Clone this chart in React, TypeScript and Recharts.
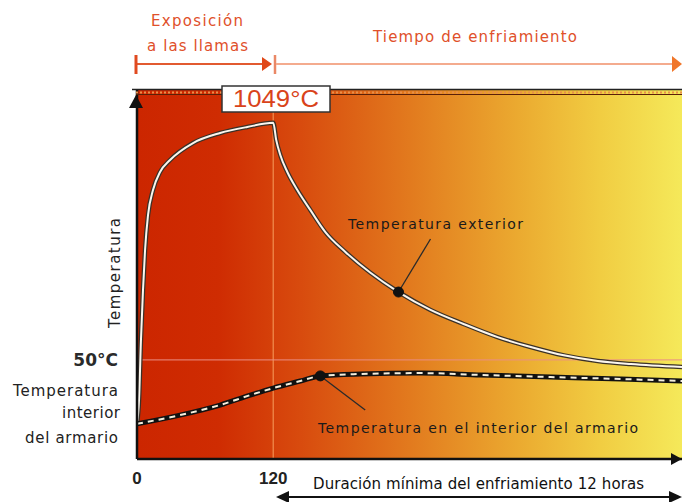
import React from "react";
import {
  ComposedChart,
  Line,
  XAxis,
  YAxis,
  ReferenceArea,
  ReferenceLine,
  ReferenceDot,
} from "recharts";

// ---- Data (x: minutes, schematic; y: temperature °C, log scale) ----
const outerX = [0, 1.8, 3.5, 5.3, 7.1, 9.7, 14.1, 20.3, 29.1, 49.4, 73.2, 97.1, 120, 122.6, 126.2, 132.4, 141.2, 152.6, 165.9, 183.5, 205.6, 230.3, 258.5, 287.6, 317.6, 346.8, 375.9, 405.9, 435, 480];
const outerY = [22, 30, 65, 123, 205, 321, 443, 558, 651, 810, 921, 995, 1049, 843, 694, 558, 443, 343, 258, 200, 153, 119.5, 95, 79.3, 67, 59, 53, 49.3, 47.4, 45.6];

const innerX = [0, 37.9, 73.2, 99.7, 120, 143.8, 161.5, 196.8, 249.7, 302.6, 364.4, 426.2, 480];
const innerY = [22, 24.6, 28, 31.8, 34.8, 38.1, 40.7, 41.7, 42.2, 41.2, 40.1, 39.1, 38.1];

const xTicks = [0, 120];
const yTicks = [50];
const peakLabel = "1049°C";
const outerDotIndex = 21;
const innerDotIndex = 6;
const outerLeaderEnd = { x: 258.5, y: 236 };
const innerLeaderEnd = { x: 201, y: 26.3 };

const outerData = outerX.map((x, i) => ({ x, y: outerY[i] }));
const innerData = innerX.map((x, i) => ({ x, y: innerY[i] }));

const FONT = "'DejaVu Sans', 'Liberation Sans', Arial, sans-serif";
const NUMFONT = "'Liberation Sans', Arial, sans-serif";

const XTick = (props: any) => {
  const { x, y, payload } = props;
  return (
    <text x={x} y={y + 25} textAnchor="middle" fontFamily={NUMFONT} fontWeight="bold" fontSize={17} fill="#222">
      {payload.value}
    </text>
  );
};

const YTick = (props: any) => {
  const { x, y, payload } = props;
  return (
    <text x={x - 19} y={y + 6} textAnchor="end" fontFamily={FONT} fontWeight="bold" fontSize={17} fill="#2a2a2a">
      {payload.value}°C
    </text>
  );
};

export default function App() {
  return (
    <div style={{ position: "absolute", left: 0, top: 0, width: 682, height: 502, background: "#fff" }}>
      <ComposedChart width={682} height={502} margin={{ top: 90, right: 0, left: 0, bottom: 0 }}>
        <defs>
          <linearGradient id="bgGrad" x1="0" y1="0" x2="1" y2="0">
            <stop offset="0%" stopColor="#cc2600" />
            <stop offset="15%" stopColor="#cf2c02" />
            <stop offset="30%" stopColor="#d84b0e" />
            <stop offset="50%" stopColor="#e27a1e" />
            <stop offset="70%" stopColor="#ebaa30" />
            <stop offset="85%" stopColor="#f1cd42" />
            <stop offset="100%" stopColor="#f5e95a" />
          </linearGradient>
        </defs>
        <XAxis
          dataKey="x"
          type="number"
          domain={[0, 480]}
          allowDataOverflow
          ticks={xTicks}
          tick={<XTick />}
          tickLine={false}
          tickSize={0}
          tickMargin={0}
          height={43}
          axisLine={{ stroke: "#111", strokeWidth: 2.5 }}
        />
        <YAxis
          type="number"
          scale="log"
          domain={[14, 1600]}
          allowDataOverflow
          ticks={yTicks}
          tick={<YTick />}
          tickLine={false}
          tickSize={0}
          tickMargin={0}
          width={137}
          axisLine={{ stroke: "#111", strokeWidth: 2.5 }}
        />
        <ReferenceArea x1={0} x2={480} y1={14} y2={1600} fill="url(#bgGrad)" fillOpacity={1} stroke="none" />
        <ReferenceLine x={120} stroke="#f59a5a" strokeOpacity={0.7} strokeWidth={1.5} />
        <ReferenceLine y={50} stroke="#ea8e86" strokeOpacity={0.8} strokeWidth={1.2} />
        <ReferenceLine
          segment={[{ x: outerX[outerDotIndex], y: outerY[outerDotIndex] }, outerLeaderEnd]}
          stroke="#2a2a2a"
          strokeWidth={1.3}
        />
        <ReferenceLine
          segment={[{ x: innerX[innerDotIndex], y: innerY[innerDotIndex] }, innerLeaderEnd]}
          stroke="#2a2a2a"
          strokeWidth={1.3}
        />
        <Line data={outerData} dataKey="y" type="monotone" stroke="#3a3128" strokeWidth={4.5} dot={false} isAnimationActive={false} />
        <Line data={outerData} dataKey="y" type="monotone" stroke="#fbf6ee" strokeWidth={2} dot={false} isAnimationActive={false} />
        <Line data={innerData} dataKey="y" type="monotone" stroke="#111" strokeWidth={5} dot={false} isAnimationActive={false} />
        <Line data={innerData} dataKey="y" type="monotone" stroke="#f4eedc" strokeWidth={2} strokeDasharray="6 5" dot={false} isAnimationActive={false} />
        <ReferenceDot x={outerX[outerDotIndex]} y={outerY[outerDotIndex]} r={5} fill="#111" stroke="#111" />
        <ReferenceDot x={innerX[innerDotIndex]} y={innerY[innerDotIndex]} r={5} fill="#111" stroke="#111" />
      </ComposedChart>
      <svg width={682} height={502} style={{ position: "absolute", left: 0, top: 0, pointerEvents: "none" }}>
        {/* top phase arrows */}
        <line x1={136} y1={64} x2={266} y2={64} stroke="#e25a30" strokeWidth={2} />
        <line x1={136} y1={55} x2={136} y2={74} stroke="#e04a20" strokeWidth={3} />
        <polygon points="262,57 272,64 262,71" fill="#e04818" />
        <line x1={275} y1={55} x2={275} y2={74} stroke="#ea8866" strokeWidth={2.5} />
        <line x1={276} y1={64} x2={674} y2={64} stroke="#f4ab8e" strokeWidth={2} />
        <polygon points="672,56 682,64 672,72" fill="#f0762a" />
        <text x={151} y={26} fontFamily={FONT} fontSize={15} fill="#e0502a" textLength={92} lengthAdjust="spacing">Exposición</text>
        <text x={147} y={51} fontFamily={FONT} fontSize={15} fill="#e0502a" textLength={101} lengthAdjust="spacing">a las llamas</text>
        <text x={373} y={42} fontFamily={FONT} fontSize={15} fill="#e0502a" textLength={204} lengthAdjust="spacing">Tiempo de enfriamiento</text>

        {/* plot top border */}
        <line x1={132} y1={89.5} x2={682} y2={89.5} stroke="#222" strokeWidth={1.5} />
        <line x1={136} y1={92.5} x2={682} y2={92.5} stroke="#e8904a" strokeWidth={2} strokeDasharray="2 2" />
        <line x1={136} y1={94.5} x2={682} y2={94.5} stroke="#5a2008" strokeWidth={1} />

        {/* axis arrowheads */}
        <polygon points="136,95 129,108 143,108" fill="#111" />
        <polygon points="682,459 671,453 671,465" fill="#111" />

        {/* peak label */}
        <rect x={222} y={86} width={108} height={26} fill="#fff" stroke="#333" strokeWidth={1.5} />
        <text x={276} y={107} textAnchor="middle" fontFamily={NUMFONT} fontSize={23} fill="#d9431a" textLength={86} lengthAdjust="spacingAndGlyphs">{peakLabel}</text>

        {/* axis titles */}
        <text transform="translate(120,273) rotate(-90)" textAnchor="middle" fontFamily={FONT} fontSize={15} fill="#222" textLength={110} lengthAdjust="spacing">Temperatura</text>
        <text x={13} y={396} fontFamily={FONT} fontSize={15} fill="#222" textLength={105} lengthAdjust="spacing">Temperatura</text>
        <text x={62} y={418} fontFamily={FONT} fontSize={15} fill="#222" textLength={58} lengthAdjust="spacing">interior</text>
        <text x={25} y={443} fontFamily={FONT} fontSize={15} fill="#222" textLength={93} lengthAdjust="spacing">del armario</text>

        {/* series labels */}
        <text x={348} y={229} fontFamily={FONT} fontSize={14} fill="#1a1a1a" textLength={175} lengthAdjust="spacing">Temperatura exterior</text>
        <text x={318} y={433} fontFamily={FONT} fontSize={14} fill="#1a1a1a" textLength={320} lengthAdjust="spacing">Temperatura en el interior del armario</text>

        {/* bottom duration */}
        <text x={313} y={489} fontFamily={FONT} fontSize={15} fill="#111" textLength={331} lengthAdjust="spacing">Duración mínima del enfriamiento 12 horas</text>
        <line x1={284} y1={497} x2={672} y2={497} stroke="#111" strokeWidth={2} />
        <polygon points="276,497 289,491 289,503" fill="#111" />
        <polygon points="682,497 669,491 669,503" fill="#111" />
      </svg>
    </div>
  );
}
